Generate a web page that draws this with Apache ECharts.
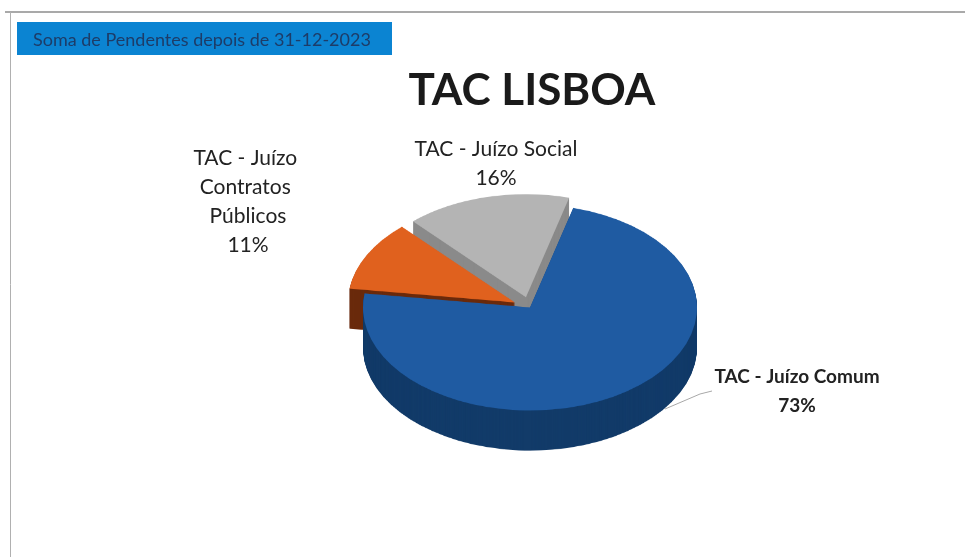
<!DOCTYPE html>
<html>
<head>
<meta charset="utf-8">
<script src="https://cdn.jsdelivr.net/npm/echarts@6/dist/echarts.min.js"></script>
<style>
  html, body { margin: 0; padding: 0; background: #fff; }
  #page { position: relative; width: 965px; height: 557px; overflow: hidden; }
  /* pie is drawn round, then squashed to look tilted */
  #pie { position: absolute; left: 330px; top: 184px; width: 400px; height: 500px;
         transform: scaleY(0.617); transform-origin: 0 0; }
  #chart { position: absolute; left: 0; top: 0; width: 965px; height: 557px; pointer-events: none; }
</style>
</head>
<body>
<div id="page">
  <div id="pie"></div>
  <div id="chart"></div>
</div>
<script>
const categories = ["TAC - Juízo Comum", "TAC - Juízo Contratos Públicos", "TAC - Juízo Social"];
const values = [73, 11, 16];
const exploded = [false, true, true];

const topColors = ["#1f5ba2", "#e0611e", "#b4b4b4"];
const sideColors = ["#123b69", "#6a2a0c", "#8a8a8a"];
const fontFamily = "Lato, 'Open Sans', sans-serif";

function sliceData(colors) {
  return categories.map((name, i) => ({
    name: name,
    value: values[i],
    selected: exploded[i],
    itemStyle: { color: colors[i] },
  }));
}

function pieSeries(offsetY, colors, z) {
  return {
    type: "pie",
    z: z,
    center: [200, 200 + offsetY],
    radius: 167,
    startAngle: 75,
    selectedMode: "multiple",
    selectedOffset: 17,
    silent: true,
    animation: false,
    label: { show: false },
    labelLine: { show: false },
    itemStyle: { borderWidth: 0 },
    data: sliceData(colors),
  };
}

// Pie with fake depth: stacked darker copies, top face last
function showPie() {
  const myChart = echarts.init(document.getElementById("pie"));
  const depth = 65;
  const series = [];
  let z = 1;
  for (let d = depth; d > 0; d -= 1) {
    series.push(pieSeries(d, sideColors, z++));
  }
  series.push(pieSeries(0, topColors, z));
  myChart.setOption({ series: series });
}

// Title, header, labels
function showOverlay() {
  const myChart = echarts.init(document.getElementById("chart"));
  const total = values.reduce((a, b) => a + b, 0);
  const pct = values.map((v) => Math.round((100 * v) / total) + "%");
  const labelSpots = [
    { x: 797, y: 362, w: 240, size: 19, bold: true },
    { x: 248, y: 144, w: 130, size: 21, bold: false },
    { x: 496, y: 135, w: 240, size: 21, bold: false },
  ];
  const labels = categories.map((name, i) => ({
    type: "text",
    x: labelSpots[i].x,
    y: labelSpots[i].y,
    style: {
      text: name + "\n" + pct[i],
      width: labelSpots[i].w,
      overflow: "break",
      align: "center",
      fill: "#222",
      font: (labelSpots[i].bold ? "bold " : "") + labelSpots[i].size + "px " + fontFamily,
      lineHeight: 29,
    },
  }));

  const option = {
    title: {
      text: "TAC LISBOA",
      left: 527,
      top: 64,
      textAlign: "center",
      textStyle: { fontFamily: fontFamily, fontSize: 44, fontWeight: "bold", color: "#1a1a1a" },
    },
    graphic: [
      { type: "line", shape: { x1: 5, y1: 12, x2: 965, y2: 12 }, style: { stroke: "#8c8c8c", lineWidth: 1.5 } },
      { type: "line", shape: { x1: 10.5, y1: 12, x2: 10.5, y2: 557 }, style: { stroke: "#b0b0b0", lineWidth: 1 } },
      { type: "rect", shape: { x: 17, y: 22, width: 375, height: 33 }, style: { fill: "#0b84d2" } },
      {
        type: "text",
        x: 33,
        y: 40,
        style: {
          text: "Soma de Pendentes depois de 31-12-2023",
          fill: "#1d3c68",
          font: "18px " + fontFamily,
          verticalAlign: "middle",
        },
      },
      {
        type: "polyline",
        shape: { points: [[665, 409], [700, 394], [712, 391]] },
        style: { stroke: "#a8a8a8", lineWidth: 1, fill: null },
      },
    ].concat(labels),
  };
  myChart.setOption(option);
}

showPie();
showOverlay();
</script>
</body>
</html>
